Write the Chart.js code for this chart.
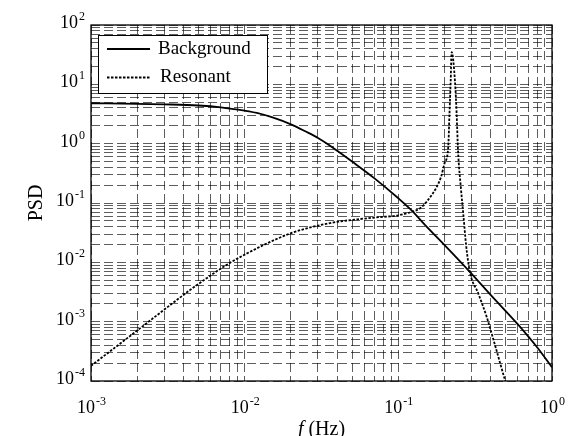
<!DOCTYPE html>
<html>
<head>
<meta charset="utf-8">
<script src="https://cdn.jsdelivr.net/npm/chart.js@4.4.0/dist/chart.umd.min.js"></script>
<style>
  html, body { margin: 0; padding: 0; background: #fff; }
  canvas { display: block; }
</style>
</head>
<body>
<canvas id="chart-area" width="575" height="436"></canvas>
<script>
// values (log-log)
var bgFreq = [0.001, 0.002, 0.003, 0.005, 0.007, 0.01, 0.012, 0.015, 0.02, 0.025, 0.03, 0.035,
              0.04, 0.05, 0.07, 0.1, 0.122, 0.15, 0.2, 0.3, 0.4, 0.6, 0.8, 1.0];
var bgPsd  = [4.8, 4.7, 4.6, 4.4, 4.1, 3.6, 3.3, 2.8, 2.12, 1.6, 1.25, 0.97,
              0.76, 0.5, 0.26, 0.12, 0.075, 0.042, 0.0195, 0.0064, 0.0028, 0.0009, 0.00037, 0.00017];

var resFreq = [0.001, 0.0014, 0.002, 0.003, 0.0044, 0.006, 0.0076, 0.01, 0.012, 0.016, 0.02,
               0.025, 0.0325, 0.042, 0.054, 0.076, 0.088, 0.1, 0.122, 0.138, 0.155, 0.178,
               0.19, 0.2, 0.211, 0.215, 0.219, 0.2224, 0.2338, 0.2398, 0.2445, 0.256, 0.265,
               0.276, 0.292, 0.331, 0.376, 0.426, 0.494, 0.52];
var resPsd  = [1.8e-4, 3.5e-4, 7.1e-4, 1.6e-3, 3.4e-3, 6.0e-3, 9.0e-3, 0.0135, 0.0172, 0.0245, 0.031,
               0.037, 0.0435, 0.049, 0.053, 0.058, 0.0595, 0.062, 0.071, 0.081, 0.11, 0.188,
               0.28, 0.47, 0.84, 3.0, 11, 35, 11, 3.0, 0.78, 0.166, 0.063,
               0.0196, 0.0069, 0.003, 0.0012, 0.0004, 0.000105, 0.00007];

var seriesLabels = ['Background', 'Resonant'];
var xRange = [1e-3, 1];
var yRange = [1e-4, 1e2];
var xTitle = ['f', ' (Hz)'];
var yTitle = 'PSD';

var serif = "'Liberation Serif', 'Times New Roman', serif";

function toPoints(xs, ys) {
  return xs.map(function (x, i) { return {x: x, y: ys[i]}; });
}

// 1..9 x 10^n grid ticks for each decade
function logTicks(scale) {
  var ticks = [];
  var lo = Math.round(Math.log10(scale.min));
  var hi = Math.round(Math.log10(scale.max));
  for (var e = lo; e <= hi; e++) {
    for (var m = 1; m <= 9; m++) {
      if (e === hi && m > 1) break;
      var v = parseFloat((m * Math.pow(10, e)).toPrecision(6));
      ticks.push({value: v, major: m === 1});
    }
  }
  scale.ticks = ticks;
}

function drawPow(ctx, exp, x, y, align) {
  var s = exp < 0 ? '-' + (-exp) : String(exp);
  ctx.font = '18px ' + serif;
  var w1 = ctx.measureText('10').width;
  ctx.font = '12px ' + serif;
  var w2 = ctx.measureText(s).width;
  var x0 = align === 'right' ? x - w1 - w2 - 1 : x - (w1 + w2) / 2;
  ctx.font = '18px ' + serif;
  ctx.fillText('10', x0, y);
  ctx.font = '12px ' + serif;
  ctx.fillText(s, x0 + w1 + 1, y - 8);
}

var framePlugin = {
  id: 'frame',
  afterDraw: function (chart) {
    var ctx = chart.ctx, a = chart.chartArea;
    var xs = chart.scales.x, ys = chart.scales.y;
    ctx.save();
    ctx.fillStyle = '#000';
    ctx.textBaseline = 'alphabetic';

    // tick labels
    xs.ticks.forEach(function (t) {
      if (!t.major) return;
      drawPow(ctx, Math.round(Math.log10(t.value)), xs.getPixelForValue(t.value), a.bottom + 32, 'center');
    });
    ys.ticks.forEach(function (t) {
      if (!t.major) return;
      drawPow(ctx, Math.round(Math.log10(t.value)), a.left - 6, ys.getPixelForValue(t.value) + 3, 'right');
    });

    // x title with italic f
    ctx.font = 'italic 20px ' + serif;
    var wf = ctx.measureText(xTitle[0]).width;
    ctx.font = '20px ' + serif;
    var wr = ctx.measureText(xTitle[1]).width;
    var cx = (a.left + a.right) / 2 - (wf + wr) / 2;
    ctx.font = 'italic 20px ' + serif;
    ctx.fillText(xTitle[0], cx, a.bottom + 54);
    ctx.font = '20px ' + serif;
    ctx.fillText(xTitle[1], cx + wf, a.bottom + 54);

    // y title
    ctx.save();
    ctx.translate(42, (a.top + a.bottom) / 2);
    ctx.rotate(-Math.PI / 2);
    ctx.textAlign = 'center';
    ctx.font = '20px ' + serif;
    ctx.fillText(yTitle, 0, 0);
    ctx.restore();

    // legend box
    var lx = a.left + 7, ly = a.top + 10, lw = 169, lh = 58;
    ctx.fillStyle = '#fff';
    ctx.fillRect(lx, ly, lw, lh);
    ctx.strokeStyle = '#000';
    ctx.lineWidth = 1;
    ctx.strokeRect(lx + 0.5, ly + 0.5, lw, lh);
    chart.data.datasets.forEach(function (ds, i) {
      var yy = ly + 14 + i * 28.5;
      ctx.beginPath();
      ctx.setLineDash(ds.borderDash || []);
      ctx.lineWidth = ds.borderWidth;
      ctx.strokeStyle = ds.borderColor;
      ctx.moveTo(lx + 9, yy);
      ctx.lineTo(lx + 52, yy);
      ctx.stroke();
      ctx.setLineDash([]);
      ctx.fillStyle = '#000';
      ctx.font = '19px ' + serif;
      ctx.textBaseline = 'middle';
      ctx.fillText(ds.label, lx + 60 + i * 2, yy);
    });

    // plot frame
    ctx.strokeStyle = '#000';
    ctx.lineWidth = 1.3;
    ctx.strokeRect(a.left, a.top, a.right - a.left, a.bottom - a.top);
    ctx.restore();
  }
};

var gridOpts = {
  color: 'rgba(0,0,0,0.8)',
  lineWidth: 0.8,
  drawTicks: false
};

var config = {
  type: 'line',
  data: {
    datasets: [{
      label: seriesLabels[0],
      data: toPoints(bgFreq, bgPsd),
      borderColor: '#000',
      borderWidth: 1.8,
      pointRadius: 0,
      fill: false,
      cubicInterpolationMode: 'monotone'
    }, {
      label: seriesLabels[1],
      data: toPoints(resFreq, resPsd),
      borderColor: '#000',
      borderWidth: 1.8,
      borderDash: [2.5, 1.5],
      pointRadius: 0,
      fill: false,
      cubicInterpolationMode: 'monotone'
    }]
  },
  options: {
    responsive: false,
    animation: false,
    layout: { padding: { top: 25, right: 23, left: 0, bottom: 0 } },
    plugins: {
      legend: { display: false },
      tooltip: { enabled: false }
    },
    scales: {
      x: {
        type: 'logarithmic',
        min: xRange[0],
        max: xRange[1],
        afterBuildTicks: logTicks,
        afterFit: function (s) { s.height = 55; },
        ticks: { display: false },
        grid: gridOpts,
        border: { display: false, dash: [9, 4] }
      },
      y: {
        type: 'logarithmic',
        min: yRange[0],
        max: yRange[1],
        afterBuildTicks: logTicks,
        afterFit: function (s) { s.width = 91; },
        ticks: { display: false },
        grid: gridOpts,
        border: { display: false, dash: [9, 4] }
      }
    }
  },
  plugins: [framePlugin]
};

window.onload = function () {
  var ctx = document.getElementById('chart-area').getContext('2d');
  window.psdChart = new Chart(ctx, config);
};
</script>
</body>
</html>
